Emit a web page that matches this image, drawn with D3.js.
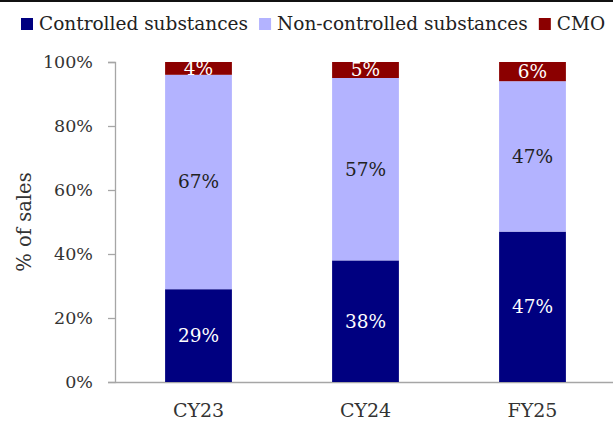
<!DOCTYPE html>
<html>
<head>
<meta charset="utf-8">
<script src="https://cdn.jsdelivr.net/npm/d3@7"></script>
<style>
  body { margin: 0; background: #fff; }
  svg { display: block; font-family: "DejaVu Serif", serif; }
</style>
</head>
<body>
<div id="chart"></div>
<script>
const categories = ["CY23", "CY24", "FY25"];
const seriesNames = ["Controlled substances", "Non-controlled substances", "CMO"];
const controlled = [29, 38, 47];
const nonControlled = [67, 57, 47];
const cmo = [4, 5, 6];
const yTicks = [0, 20, 40, 60, 80, 100];

const colors = ["#000080", "#b3b3ff", "#8b0000"];
const labelColors = ["#ffffff", "#222222", "#ffffff"];
const fontFamily = "DejaVu Serif, serif";

const width = 613, height = 423;
const margin = {top: 62, right: -3, bottom: 41, left: 115};

const svg = d3.select("#chart").append("svg")
      .attr("width", width)
      .attr("height", height);

// thin dark rule along the very top
svg.append("rect")
      .attr("x", 0).attr("y", 0)
      .attr("width", width).attr("height", 2)
      .attr("fill", "#111");

const x = d3.scaleBand()
      .domain(categories)
      .range([margin.left, width - margin.right])
      .paddingInner(0.6)
      .paddingOuter(0.3);

const y = d3.scaleLinear()
      .domain([0, 100])
      .range([height - margin.bottom, margin.top]);

const rows = categories.map((c, i) => ({
      cat: c,
      "Controlled substances": controlled[i],
      "Non-controlled substances": nonControlled[i],
      "CMO": cmo[i]
}));

const stacked = d3.stack().keys(seriesNames)(rows);

// axes
const yAxis = svg.append("g")
      .attr("transform", "translate(" + margin.left + ",0)")
      .call(d3.axisLeft(y).tickValues(yTicks).tickSize(7).tickFormat(d => d + "%"));
yAxis.select(".domain").attr("stroke", "#a6a6a6").attr("stroke-width", 1.3);
yAxis.selectAll(".tick line").attr("stroke", "#a6a6a6").attr("stroke-width", 1.3);
yAxis.selectAll(".tick text")
      .attr("x", -22)
      .attr("fill", "#333")
      .style("font-size", "17.5px")
      .style("font-family", fontFamily);

const xAxis = svg.append("g")
      .attr("transform", "translate(0," + y(0) + ")")
      .call(d3.axisBottom(x).tickSize(0).tickSizeOuter(0));
xAxis.select(".domain").attr("stroke", "#a6a6a6").attr("stroke-width", 1.3);
xAxis.selectAll(".tick text")
      .attr("y", 22)
      .attr("fill", "#333")
      .style("font-size", "19px")
      .style("font-family", fontFamily);

// bars
stacked.forEach((layer, k) => {
      const g = svg.append("g");
      g.selectAll("rect")
            .data(layer)
            .join("rect")
            .attr("x", d => x(d.data.cat))
            .attr("y", d => y(d[1]))
            .attr("width", x.bandwidth())
            .attr("height", d => y(d[0]) - y(d[1]))
            .attr("fill", colors[k]);
      g.selectAll("text")
            .data(layer)
            .join("text")
            .attr("x", d => x(d.data.cat) + x.bandwidth() / 2)
            .attr("y", d => (y(d[0]) + y(d[1])) / 2)
            .attr("dy", "0.35em")
            .attr("text-anchor", "middle")
            .attr("fill", labelColors[k])
            .style("font-size", "18.5px")
            .text(d => (d[1] - d[0]) + "%");
});

// y label
svg.append("text")
      .attr("transform", "translate(31,222) rotate(-90)")
      .attr("text-anchor", "middle")
      .attr("fill", "#333")
      .style("font-size", "19.5px")
      .text("% of sales");

// legend
const legend = svg.append("g").attr("transform", "translate(21,30)");
let lx = 0;
seriesNames.forEach((name, k) => {
      const item = legend.append("g").attr("transform", "translate(" + lx + ",0)");
      item.append("rect")
            .attr("x", 0).attr("y", -12)
            .attr("width", 12).attr("height", 12)
            .attr("fill", colors[k]);
      const t = item.append("text")
            .attr("x", 18)
            .attr("y", 0)
            .attr("fill", "#222")
            .style("font-size", "18.5px")
            .text(name);
      lx += 18 + t.node().getComputedTextLength() + 11;
});
</script>
</body>
</html>
